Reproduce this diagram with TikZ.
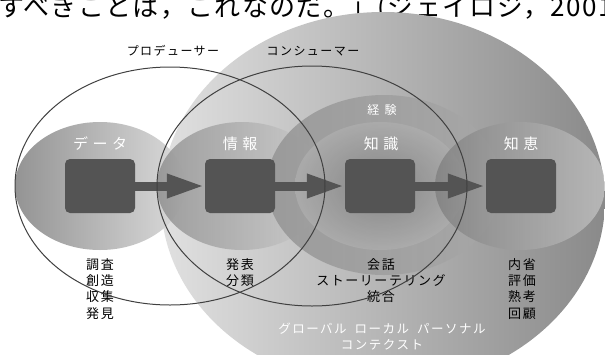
\documentclass[tikz,border=0pt]{standalone}
\usepackage{fontspec}
\setmainfont{Noto Sans CJK JP}
\newfontfamily\jp{Noto Sans CJK JP}
\newfontfamily\jpq[LetterSpace=5]{Noto Sans CJK JP}
\newfontfamily\jpls[LetterSpace=12]{Noto Sans CJK JP}
\newfontfamily\jpwide[LetterSpace=30]{Noto Sans CJK JP}
\newfontfamily\jpexp[LetterSpace=45]{Noto Sans CJK JP}
\usetikzlibrary{arrows.meta,shapes.geometric}
\definecolor{bigL}{gray}{0.88}
\definecolor{bigR}{gray}{0.54}
\definecolor{dataL}{gray}{0.58}
\definecolor{dataR}{gray}{0.86}
\definecolor{infoL}{gray}{0.52}
\definecolor{infoR}{gray}{0.82}
\definecolor{expL}{gray}{0.58}
\definecolor{expR}{gray}{0.66}
\definecolor{knI}{gray}{0.50}
\definecolor{knO}{gray}{0.68}
\definecolor{wisL}{gray}{0.50}
\definecolor{wisR}{gray}{0.76}
\definecolor{boxc}{gray}{0.33}
\definecolor{linec}{gray}{0.25}
\tikzset{
  blob/.style={ellipse, inner sep=0pt, minimum width=170pt, minimum height=128pt},
  box/.style={draw=none, fill=boxc, rounded corners=5pt, minimum width=70pt, minimum height=54pt, inner sep=0pt},
  arr/.style={draw=boxc, line width=9pt, -{Triangle[length=38pt,width=22pt]}},
  outl/.style={draw=linec, line width=1pt, ellipse, inner sep=0pt},
  title/.style={font=\jpwide\fontsize{15pt}{18pt}\selectfont, text=white, inner sep=0pt},
  small/.style={font=\jpls\fontsize{12pt}{15pt}\selectfont, inner sep=0pt},
  items/.style={font=\jpls\fontsize{13pt}{16.3pt}\selectfont, align=center, anchor=north, inner sep=0pt},
  ctx/.style={font=\jpls\fontsize{12.5pt}{16pt}\selectfont, text=white, align=center, inner sep=0pt},
}
\begin{document}
\begin{tikzpicture}[x=1pt,y=-1pt]
\useasboundingbox (0,0) rectangle (605,354);
% top quotation line (cut)
\node[anchor=base west, inner sep=0pt, font=\jpq\fontsize{26pt}{30pt}\selectfont] (quote) at (-2,16) {すべきことは，これなのだ。」(ジェイロジ，2001};
% big context ellipse
\node[ellipse, inner sep=0pt, minimum width=444pt, minimum height=376pt, left color=bigL, right color=bigR] (ctxell) at (383,200) {};
% data / info / experience / knowledge / wisdom
\node[blob, left color=dataL, right color=dataR] (edata) at (100,186) {};
\node[blob, left color=infoL, right color=infoR, fill opacity=0.72] (einfo) at (242,186) {};
\node[ellipse, inner sep=0pt, minimum width=234pt, minimum height=180pt, left color=expL, right color=expR, fill opacity=0.85] (eexp) at (384,185) {};
\node[blob, inner color=knI, outer color=knO, fill opacity=0.8] (eknow) at (380,186) {};
\node[blob, left color=wisL, right color=wisR, fill opacity=0.8] (ewis) at (520,186) {};
% boxes
\node[box] (b1) at (100,186) {};
\node[box] (b2) at (240,186) {};
\node[box] (b3) at (380,186) {};
\node[box] (b4) at (521,186) {};
\draw[arr] (b1) -- (b2);
\draw[arr] (b2) -- (b3);
\draw[arr] (b3) -- (b4);
% titles
\node[title] (tdata) at (100,144) {データ};
\node[title] (tinfo) at (240,144) {情報};
\node[title] (tknow) at (381,144) {知識};
\node[title] (twis) at (521,144) {知恵};
\node[font=\jpexp\fontsize{12pt}{15pt}\selectfont, text=white, inner sep=0pt] (texp) at (382,110) {経験};
% producer / consumer
\node[small] (tprod) at (173,51) {プロデューサー};
\node[small] (tcons) at (313,51) {コンシューマー};
% item lists
\node[items] (l1) at (100,258) {調査\\創造\\収集\\発見};
\node[items] (l2) at (240,258) {発表\\分類};
\node[items] (l3) at (381,258) {会話\\ストーリーテリング\\統合};
\node[items] (l4) at (522,258) {内省\\評価\\熟考\\回顧};
% context
\node[ctx] (tctx) at (382,337) {グローバル\hspace{8pt}ローカル\hspace{8pt}パーソナル\\コンテクスト};
% outline ellipses
\node[outl, minimum width=310pt, minimum height=238pt] (prod) at (170,186) {};
\node[outl, minimum width=310pt, minimum height=240pt] (cons) at (312,186) {};
\end{tikzpicture}
\end{document}
